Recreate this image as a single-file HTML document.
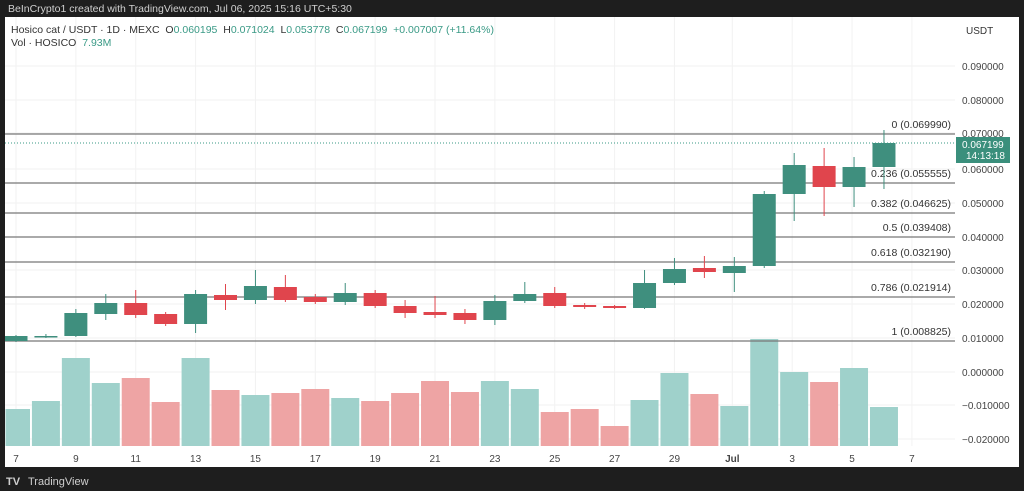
<!DOCTYPE html>
<html><head><meta charset="utf-8"><style>
html,body{margin:0;padding:0;width:1024px;height:491px;overflow:hidden;background:#1e1e1e;font-family:"Liberation Sans",sans-serif}
svg{position:absolute;left:0;top:0}
text{white-space:pre}
</style></head><body>
<svg id="s" width="1024" height="491" xmlns="http://www.w3.org/2000/svg">
<rect x="0" y="0" width="1024" height="491" fill="#1e1e1e"/>
<rect x="5" y="17" width="1014" height="450" fill="#ffffff"/>
<text x="8" y="12" font-size="10.5" fill="#d0d0d0">BeInCrypto1 created with TradingView.com, Jul 06, 2025 15:16 UTC+5:30</text>
<g id="grid"></g>
<g id="vol"></g>
<g id="fib"></g>
<g id="candles"></g>
<line x1="5" y1="143" x2="955" y2="143" stroke="#3a9a86" stroke-width="1" stroke-dasharray="1,2"/>
<text x="11" y="33" font-size="10.5" fill="#333">Hosico cat / USDT · 1D · MEXC  O<tspan fill="#3a9a86">0.060195</tspan>  H<tspan fill="#3a9a86">0.071024</tspan>  L<tspan fill="#3a9a86">0.053778</tspan>  C<tspan fill="#3a9a86">0.067199  +0.007007 (+11.64%)</tspan></text>
<text x="11" y="46" font-size="10.5" fill="#333">Vol · HOSICO  <tspan fill="#3a9a86">7.93M</tspan></text>
<text x="966" y="34" font-size="10" fill="#333">USDT</text>
<g id="axis" font-size="10" fill="#444"></g>
<rect x="956" y="137" width="54" height="26" fill="#3a8f7c"/>
<text x="962" y="148" font-size="10" fill="#fff">0.067199</text>
<text x="966" y="159" font-size="10" fill="#fff">14:13:18</text>
<g id="time" font-size="10" fill="#444"></g>
<text x="28" y="485" font-size="11" fill="#cfcfcf">TradingView</text>
<text x="6" y="485" font-size="11" font-weight="bold" fill="#cfcfcf">TV</text>
</svg>
<script>
const NS="http://www.w3.org/2000/svg";
function el(p,t,a,txt){const e=document.createElementNS(NS,t);for(const k in a)e.setAttribute(k,a[k]);if(txt)e.textContent=txt;document.getElementById(p).appendChild(e);return e;}
const G="#3f8f7e",R="#e0454d",VG="#9fd1cb",VR="#eea4a4";
const cx=i=>16+29.93*i;
const pr=[["0.090000",66],["0.080000",100],["0.070000",133],["0.060000",169],["0.050000",203],["0.040000",237],["0.030000",270],["0.020000",304],["0.010000",338],["0.000000",372],["−0.010000",405],["−0.020000",439]];
pr.forEach(p=>{el("grid","line",{x1:5,x2:955,y1:p[1],y2:p[1],stroke:"#f2f2f2"});el("axis","text",{x:962,y:p[1]+4},p[0]);});
const tl=["7","9","11","13","15","17","19","21","23","25","27","29","Jul","3","5","7"];
tl.forEach((t,k)=>{const xx=k<12?cx(2*k):cx(24+2*(k-12))-2;el("grid","line",{x1:xx,x2:xx,y1:17,y2:446,stroke:"#f2f2f2"});const e=el("time","text",{x:xx,y:462,"text-anchor":"middle"},t);if(t=="Jul")e.setAttribute("font-weight","bold");});
const vt=[409,401,358,383,378,402,358,390,395,393,389,398,401,393,381,392,381,389,412,409,426,400,373,394,406,339,372,382,368,407];
const cand=[
["g",336,341,335,342],["g",336,337,334,338],["g",313,336,309,337],["g",303,314,294,320],["r",303,315,290,318],["r",314,324,312,326],["g",294,324,290,333],["r",295,300,284,310],["g",286,300,270,304],["r",287,300,275,302],["r",297,302,294,304],["g",293,302,283,305],["r",293,306,290,308],["r",306,313,300,318],["r",312,315,296,318],["r",313,320,309,324],["g",301,320,295,325],["g",294,301,282,303],["r",293,306,287,308],["r",305,307,303,309],["r",306,308,305,309],["g",283,308,270,309],["g",269,283,258,285],["r",268,272,256,278],["g",266,273,257,292],["g",194,266,191,268],["g",165,194,153,221],["r",166,187,148,216],["g",167,187,157,207],["g",143,167,130,189]];
cand.forEach((c,i)=>{const x=cx(i);let l=x-14.5,w=29;if(l<5){w-=5-l;l=5;}
el("vol","rect",{x:l+0.5,y:vt[i],width:w-1,height:446-vt[i],fill:c[0]=="g"?VG:VR});
const col=c[0]=="g"?G:R;
el("candles","line",{x1:x,x2:x,y1:c[3],y2:c[4],stroke:col,"stroke-width":1});
let bl=x-11.5,bw=23;if(bl<5){bw-=5-bl;bl=5;}
el("candles","rect",{x:bl,y:c[1],width:bw,height:Math.max(1.5,c[2]-c[1]),fill:col});});
const fib=[["0 (0.069990)",134],["0.236 (0.055555)",183],["0.382 (0.046625)",213],["0.5 (0.039408)",237],["0.618 (0.032190)",262],["0.786 (0.021914)",297],["1 (0.008825)",341]];
fib.forEach(f=>{el("fib","line",{x1:5,x2:955,y1:f[1],y2:f[1],stroke:"#777","stroke-width":1.3});el("fib","text",{x:951,y:f[1]-6,"text-anchor":"end","font-size":10.5,fill:"#333"},f[0]);});
</script>
</body></html>
